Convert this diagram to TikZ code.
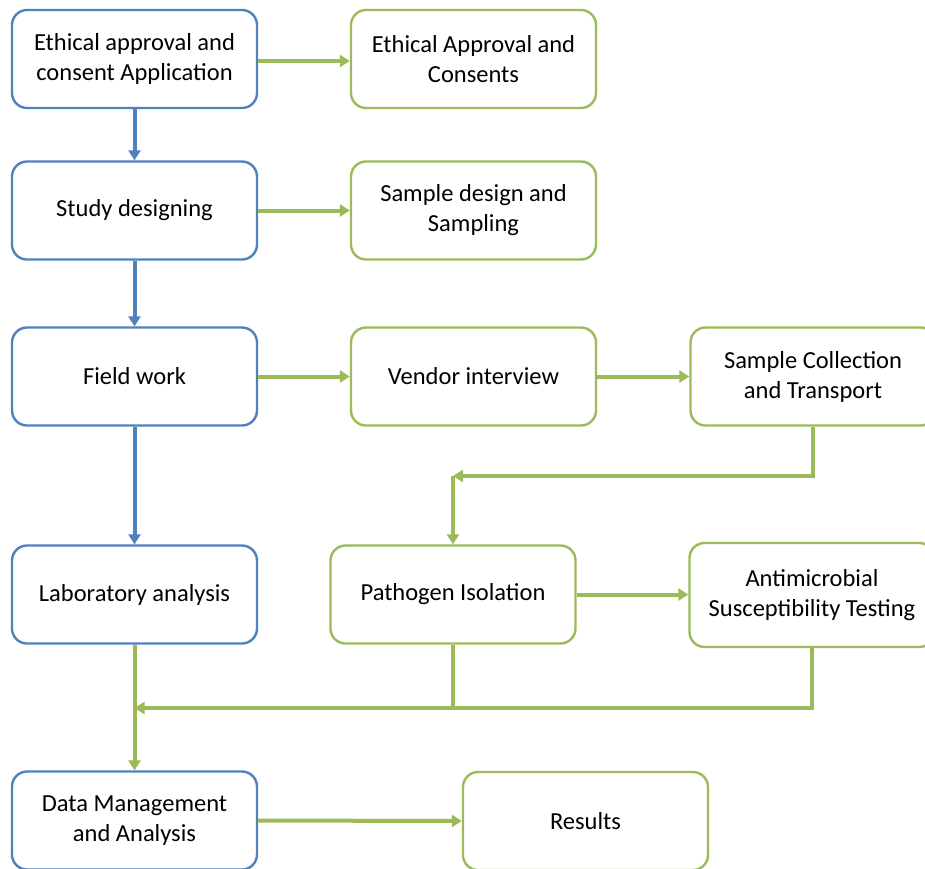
\documentclass[tikz,border=0pt]{standalone}
\usepackage{fontspec}
\setmainfont{Carlito}
\usetikzlibrary{arrows.meta}
\definecolor{ablue}{HTML}{4F81BD}
\definecolor{agreen}{HTML}{9BBB59}
\tikzset{
  box/.style={draw, line width=2.4pt, rounded corners=15pt, fill=white,
    minimum width=245pt, minimum height=98pt, align=center, text=black,
    font=\fontsize{24.5}{30}\selectfont, inner sep=0pt},
  bbox/.style={box, draw=ablue},
  gbox/.style={box, draw=agreen},
  barrow/.style={draw=ablue, line width=4pt, -{Triangle[length=10pt,width=12pt]}},
  garrow/.style={draw=agreen, line width=4pt, -{Triangle[length=10pt,width=12pt]}},
  gline/.style={draw=agreen, line width=4pt},
}
\begin{document}
\begin{tikzpicture}[x=1pt,y=-1pt]
\useasboundingbox (0,0) rectangle (925,868);
\clip (0,0) rectangle (925,868);
\node[bbox] (A1) at (134.5,59) {Ethical approval and\\consent Application};
\node[bbox] (A2) at (134.5,210.5) {Study designing};
\node[bbox] (A3) at (134.5,376.5) {Field work};
\node[bbox] (A4) at (134.5,594.5) {Laboratory analysis};
\node[bbox] (A5) at (134.5,820.5) {Data Management\\and Analysis};
\node[gbox] (B1) at (473.5,59) {Ethical Approval and\\Consents};
\node[gbox] (B2) at (473.5,210.5) {Sample design and\\Sampling};
\node[gbox] (B3) at (473.5,376.5) {Vendor interview};
\node[gbox] (C3) at (813,376.5) {Sample Collection\\and Transport};
\node[gbox] (P) at (453,594.5) {Pathogen Isolation};
\node[gbox, minimum height=104pt] (AST) at (812,595) {Antimicrobial\\Susceptibility Testing};
\node[gbox] (R) at (585.5,821) {Results};
\coordinate (k) at (453,476);
\coordinate (m) at (134.5,708);
\draw[barrow] (A1) -- (A2);
\draw[barrow] (A2) -- (A3);
\draw[barrow] (A3) -- (A4);
\draw[garrow] ([yshift=-2pt]A1.east) -- ([yshift=-2pt]B1.west);
\draw[garrow] (A2.east) -- (B2.west);
\draw[garrow] (A3.east) -- (B3.west);
\draw[garrow] (B3.east) -- (C3.west);
\draw[garrow] (C3.south) |- (k);
\draw[garrow] (k) -- (P.north);
\draw[garrow] (P.east) -- (P.east -| AST.west);
\draw[gline] (P.south) -- (P.south |- m);
\draw[garrow] (AST.south) |- (m);
\draw[garrow] (A4.south) -- (A5.north);
\draw[garrow] (A5.east) -- (R.west);
\end{tikzpicture}
\end{document}
